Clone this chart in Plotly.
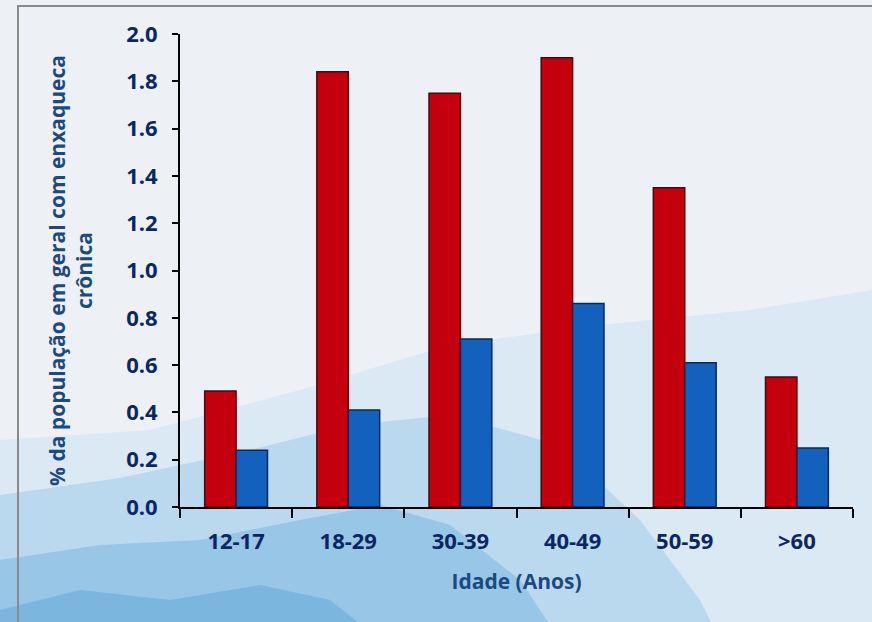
import plotly.graph_objects as go

categories = ["12-17", "18-29", "30-39", "40-49", "50-59", ">60"]
red_values = [0.49, 1.84, 1.75, 1.90, 1.35, 0.55]
blue_values = [0.24, 0.41, 0.71, 0.86, 0.61, 0.25]
y_ticks = [0.0, 0.2, 0.4, 0.6, 0.8, 1.0, 1.2, 1.4, 1.6, 1.8, 2.0]
y_tick_labels = ["0.0", "0.2", "0.4", "0.6", "0.8", "1.0", "1.2", "1.4", "1.6", "1.8", "2.0"]

W, H = 872, 622
ML, MR, MT, MB = 180, 19, 34, 115
PW, PH = W - ML - MR, H - MT - MB


def px(x, y):
    return (x - ML) / PW, (H - MB - y) / PH


def path(points):
    parts = []
    for i, (x, y) in enumerate(points):
        a, b = px(x, y)
        parts.append(("M" if i == 0 else "L") + f"{a:.4f},{b:.4f}")
    return " ".join(parts) + " Z"


bg_layers = [
    ([(0, 440), (150, 430), (300, 390), (450, 345), (600, 325), (750, 310), (872, 290),
      (872, 640), (0, 640)], "rgba(185,218,240,0.35)"),
    ([(0, 495), (120, 478), (250, 450), (350, 425), (450, 415), (560, 445), (640, 520),
      (700, 600), (720, 640), (0, 640)], "rgba(125,188,228,0.35)"),
    ([(0, 560), (100, 545), (200, 540), (300, 520), (380, 505), (450, 525), (520, 580),
      (560, 640), (0, 640)], "rgba(85,162,216,0.35)"),
    ([(0, 610), (80, 590), (170, 600), (260, 585), (330, 600), (380, 640), (0, 640)],
     "rgba(60,145,205,0.30)"),
]

shapes = []
for pts, col in bg_layers:
    shapes.append(dict(type="path", xref="paper", yref="paper", path=path(pts),
                       fillcolor=col, line=dict(width=0), layer="below"))

fx0, fy0 = px(18, 6)
fx1, fy1 = px(890, 640)
shapes.append(dict(type="rect", xref="paper", yref="paper", x0=fx0, y0=fy1, x1=fx1, y1=fy0,
                   line=dict(color="#8a8a8a", width=2), fillcolor="rgba(0,0,0,0)", layer="below"))

fig = go.Figure()
fig.add_trace(go.Bar(x=categories, y=red_values, name="A",
                     marker=dict(color="#c4000f", line=dict(color="#5a0008", width=1.5))))
fig.add_trace(go.Bar(x=categories, y=blue_values, name="B",
                     marker=dict(color="#1461bd", line=dict(color="#0a2a55", width=1.5))))

font_family = "Open Sans, Lato, sans-serif"
tick_color = "#0b2763"
title_color = "#1c4a80"

fig.update_layout(
    width=W, height=H,
    margin=dict(l=ML, r=MR, t=MT, b=MB),
    paper_bgcolor="#edf1f6",
    plot_bgcolor="rgba(0,0,0,0)",
    barmode="group",
    bargap=0.44,
    bargroupgap=0.0,
    showlegend=False,
    shapes=shapes,
    font=dict(family=font_family, color=tick_color),
)
fig.update_xaxes(
    showline=True, linecolor="black", linewidth=2,
    ticks="outside", ticklen=9, tickwidth=2, tickcolor="black",
    tickson="boundaries", showgrid=False, ticklabelstandoff=14,
    tickfont=dict(size=22, color=tick_color, family=font_family, weight="bold"),
    title=dict(text="<b>Idade (Anos)</b>", font=dict(size=21, color=title_color), standoff=20),
)
fig.update_yaxes(
    range=[0, 2.0], tickvals=y_ticks, ticktext=y_tick_labels,
    showline=True, linecolor="black", linewidth=2,
    ticks="outside", ticklen=6, tickwidth=2, tickcolor="black",
    showgrid=False, zeroline=False, ticklabelstandoff=10,
    tickfont=dict(size=22, color=tick_color, family=font_family, weight="bold"),
    title=dict(text="<b>% da população em geral com enxaqueca<br>crônica</b>",
               font=dict(size=21, color=title_color), standoff=28),
)

fig.write_html("out.html")
